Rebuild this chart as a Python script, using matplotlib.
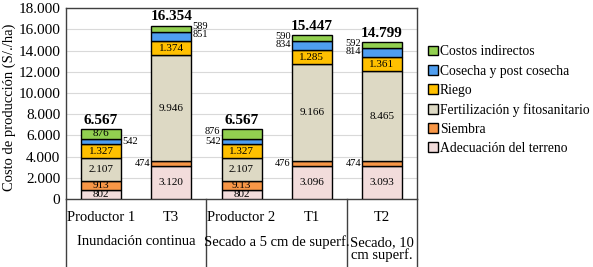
import numpy as np
import matplotlib.pyplot as plt
import matplotlib.transforms as mtransforms

plt.rcParams['font.family'] = ['Liberation Serif', 'DejaVu Serif']

# categories and groups
bars = ["Productor 1", "T3", "Productor 2", "T1", "T2"]
groups = ["Inundación continua", "Secado a 5 cm de superf.", "Secado, 10\ncm superf."]
group_span = [(0, 1), (2, 3), (4, 4)]

# cost components (S/./ha), bottom to top
adecuacion = [802, 3120, 802, 3096, 3093]
siembra = [913, 474, 913, 476, 474]
fertilizacion = [2107, 9946, 2107, 9166, 8465]
riego = [1327, 1374, 1327, 1285, 1361]
cosecha = [542, 851, 542, 834, 814]
indirectos = [876, 589, 876, 590, 592]
totales = [6567, 16354, 6567, 15447, 14799]

series = [
    ("Adecuación del terreno", adecuacion, "#F2DCDB"),
    ("Siembra", siembra, "#F79646"),
    ("Fertilización y fitosanitario", fertilizacion, "#DDD9C4"),
    ("Riego", riego, "#FFC000"),
    ("Cosecha y post cosecha", cosecha, "#4F9EF0"),
    ("Costos indirectos", indirectos, "#92D050"),
]

def fmt(v):
    return f"{v:,}".replace(",", ".")

fig = plt.figure(figsize=(5.93, 2.67), dpi=100)
ax = fig.add_axes([0.1113, 0.2547, 0.592, 0.715])

x = np.arange(len(bars))
w = 0.57
bottom = np.zeros(len(bars))
handles = []
for name, vals, col in series:
    h = ax.bar(x, vals, w, bottom=bottom, color=col, edgecolor="black", linewidth=1.0, label=name, zorder=3)
    handles.append(h)
    bottom += np.array(vals)

# segment labels
lab_fs = 8
out_fs = 7.5
for i in range(len(bars)):
    cum = 0
    for k, (name, vals, col) in enumerate(series):
        v = vals[i]
        mid = cum + v / 2
        txt = fmt(v)
        if name == "Siembra" and bars[i] == "Productor 2":
            txt = "9.13"
        inside = v >= 800
        if name == "Cosecha y post cosecha" and bars[i] in ("T1", "T2", "T3"):
            inside = False
        if name == "Costos indirectos" and bars[i] in ("T1", "T2", "T3", "Productor 2"):
            inside = False
        if inside:
            ax.text(x[i], mid, txt, ha="center", va="center", fontsize=lab_fs, zorder=4)
        else:
            right = bars[i] in ("Productor 1", "T3") and name != "Siembra"
            xo = x[i] + w / 2 + 0.015 if right else x[i] - w / 2 - 0.015
            y = mid
            if name == "Costos indirectos":
                y = totales[i] - 120 if bars[i] != "Productor 2" else mid + 200
            if name == "Cosecha y post cosecha" and bars[i] not in ("Productor 1", "Productor 2"):
                y = totales[i] - 880
            ax.text(xo, y, txt, ha="left" if right else "right", va="center",
                    fontsize=out_fs, zorder=4, linespacing=1.0)
        cum += v
    ax.text(x[i], totales[i] + 200, fmt(totales[i]), ha="center", va="bottom",
            fontsize=11, fontweight="bold")

ax.set_xlim(-0.5, len(bars) - 0.5)
ax.set_ylim(0, 18000)
ax.set_yticks(np.arange(0, 18001, 2000))
ax.set_yticklabels([fmt(v) for v in range(0, 18001, 2000)], fontsize=11)
ax.yaxis.grid(True, color="#D9D9D9", linewidth=0.8, zorder=0)
ax.tick_params(axis="y", length=0, pad=4)
ax.set_xticks([])
for s in ax.spines.values():
    s.set_color("#404040")
    s.set_linewidth(1.0)
ax.set_ylabel("Costo de producción (S/./ha)", fontsize=10.5)
ax.yaxis.set_label_coords(-0.142, 0.48)

# category axis below
trans = mtransforms.blended_transform_factory(ax.transData, ax.transAxes)
for i, b in enumerate(bars):
    ax.text(x[i], -0.095, b, transform=trans, ha="center", va="center", fontsize=10.5)
for g, (a, b) in zip(groups, group_span):
    yy = -0.224 if "\n" not in g else -0.263
    ax.text((a + b) / 2, yy, g, transform=trans, ha="center", va="center", fontsize=10.5,
            linespacing=0.95)
for xs in [-0.5, 1.5, 3.5, 4.5]:
    ax.plot([xs, xs], [0, -0.36], transform=trans, color="#404040", lw=1.0, clip_on=False)

fig.legend(handles[::-1], [s[0] for s in series][::-1], loc="upper left",
           bbox_to_anchor=(0.713, 0.85), frameon=False, fontsize=9.8,
           handlelength=0.7, handleheight=0.7, handletextpad=0.15, labelspacing=0.45,
           borderaxespad=0)

fig.savefig("out.png", dpi=100)
